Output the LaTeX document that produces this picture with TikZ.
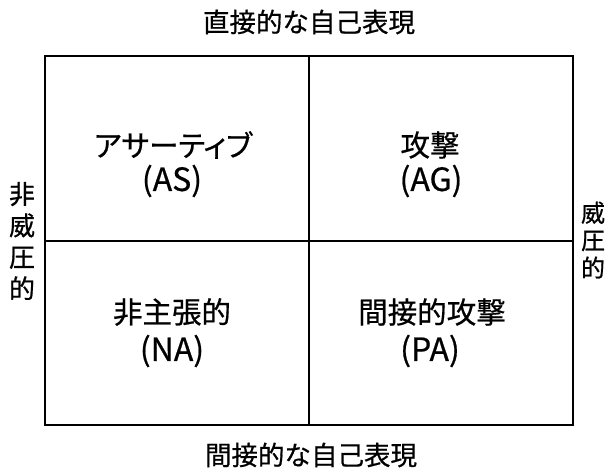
\documentclass[tikz,border=0pt]{standalone}
\usepackage{fontspec}
\setmainfont{Noto Sans CJK JP}[FakeBold=0.6,AutoFakeBold=false]
\newfontfamily\paltfont{Noto Sans CJK JP}[RawFeature=+palt,FakeBold=0.6]
\begin{document}
\begin{tikzpicture}[x=1pt,y=-1pt,
  frame/.style={line width=1.4pt,black},
  title/.style={font=\fontsize{26.5}{30}\selectfont,inner sep=0pt,anchor=center},
  quad/.style={font=\fontsize{29.5}{32}\selectfont,inner sep=0pt,anchor=center},
  abbr/.style={font=\fontsize{32}{34}\selectfont,inner sep=0pt,anchor=center},
  sidel/.style={font=\fontsize{26}{31.5}\selectfont,inner sep=0pt,align=center,anchor=center},
  sider/.style={font=\fontsize{24}{27.5}\selectfont,inner sep=0pt,align=center,anchor=center}]
\useasboundingbox (0,0) rectangle (609,474);
\fill[white] (0,0) rectangle (609,474);
\coordinate (tl) at (45,56);
\coordinate (br) at (573,425);
\coordinate (tm) at (309,56);
\coordinate (bm) at (309,425);
\coordinate (ml) at (45,241);
\coordinate (mr) at (573,241);
\draw[frame] (tl) rectangle (br);
\draw[frame] (tm) -- (bm);
\draw[frame] (ml) -- (mr);
\node[title] (top) at (309,22) {直接的な自己表現};
\node[title] (bottom) at (311,455) {間接的な自己表現};
\node[sidel] (left) at (22,241) {非\\威\\圧\\的};
\node[sider] (right) at (593,240) {威\\圧\\的};
\node[quad,font=\fontsize{29.5}{32}\paltfont] (as1) at (173,145) {アサーティブ};
\node[abbr] (as2) at (172,181) {(AS)};
\node[quad] (ag1) at (430,145) {攻撃};
\node[abbr] (ag2) at (431,181) {(AG)};
\node[quad] (na1) at (172,312) {非主張的};
\node[abbr] (na2) at (172,351) {(NA)};
\node[quad] (pa1) at (432,312) {間接的攻撃};
\node[abbr] (pa2) at (430,351) {(PA)};
\end{tikzpicture}
\end{document}
